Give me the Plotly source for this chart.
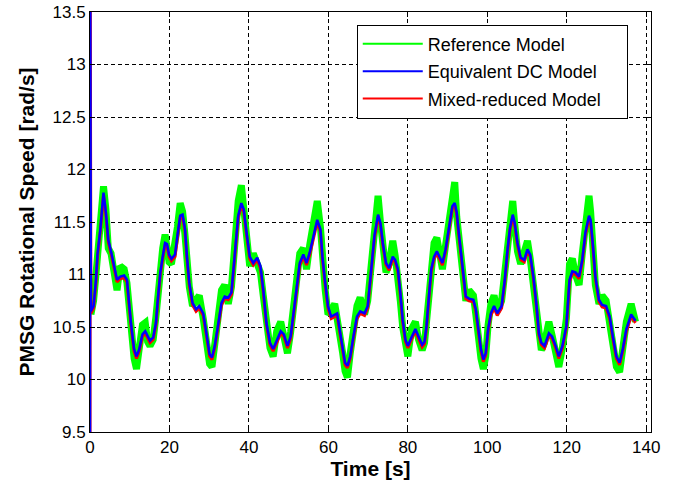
import plotly.graph_objects as go

# Time samples (s)
time_s = [0.0, 0.05, 0.23, 0.9, 1.5, 1.9, 2.6, 3.2, 3.4, 4.0, 4.6, 5.3, 6.1, 6.8, 7.6, 8.6, 9.3, 9.8,
          10.3, 11.1, 11.7, 12.4, 13.2, 13.9, 14.5, 15.1, 15.9, 16.6, 17.0, 17.7, 18.3, 18.9, 19.4,
          19.9, 20.5, 21.4, 22.0, 22.7, 23.3, 23.9, 24.4, 25.0, 25.8, 26.7, 27.5, 28.5, 29.3, 30.1,
          30.7, 31.4, 32.2, 33.1, 33.9, 34.8, 35.6, 36.4, 37.3, 38.1, 38.7, 39.4, 40.2, 41.1, 42.1,
          42.9, 43.6, 44.4, 45.3, 46.1, 47.0, 48.0, 48.8, 49.7, 50.5, 51.3, 52.2, 52.8, 53.7, 54.5,
          55.3, 56.2, 57.2, 58.0, 58.5, 59.2, 59.9, 60.7, 61.6, 62.2, 62.7, 63.6, 64.2, 64.8, 65.5,
          66.3, 67.2, 68.0, 69.1, 69.9, 70.8, 71.6, 72.5, 73.1, 73.7, 74.5, 75.3, 76.2, 76.8, 77.5,
          78.1, 78.7, 79.4, 80.0, 80.9, 81.9, 82.7, 83.6, 84.2, 84.7, 85.3, 85.9, 86.6, 87.3, 88.1,
          88.7, 89.5, 90.4, 91.2, 91.8, 92.3, 92.9, 93.5, 94.0, 94.6, 95.4, 96.5, 97.1, 97.7, 98.4,
          99.0, 99.6, 100.2, 100.9, 101.7, 102.5, 103.6, 104.4, 105.1, 105.7, 106.4, 106.9, 107.6,
          108.4, 109.3, 110.1, 110.8, 111.6, 112.4, 113.0, 113.6, 114.4, 115.5, 116.3, 117.2, 118.0,
          118.9, 119.9, 120.7, 121.4, 122.2, 123.1, 123.9, 124.7, 125.6, 126.0, 126.6, 127.2, 128.1,
          128.9, 129.9, 130.8, 131.6, 132.5, 133.3, 134.1, 135.0, 136.2, 137.3]

# Reference model (green), starts after the initial transient
ref_time = time_s[2:]
reference_model = [10.62, 10.75, 11.00, 11.15, 11.50, 11.72, 11.84, 11.62, 11.25, 11.20, 11.02, 10.85,
                   11.08, 11.05, 10.92, 10.70, 10.48, 10.20, 10.10, 10.36, 10.52, 10.54, 10.36, 10.32,
                   10.38, 10.60, 10.80, 11.08, 11.25, 11.38, 11.25, 11.12, 11.10, 11.28, 11.45, 11.68,
                   11.60, 11.38, 11.10, 10.88, 10.70, 10.75, 10.80, 10.58, 10.36, 10.15, 10.12, 10.38,
                   10.55, 10.85, 10.90, 10.72, 10.88, 11.30, 11.70, 11.85, 11.60, 11.32, 11.08, 11.20,
                   11.12, 11.02, 10.80, 10.50, 10.30, 10.22, 10.46, 10.55, 10.40, 10.25, 10.45, 10.70,
                   11.05, 11.20, 11.25, 11.05, 11.28, 11.45, 11.70, 11.45, 11.10, 10.85, 10.62, 10.65,
                   10.72, 10.60, 10.45, 10.25, 10.08, 10.02, 10.25, 10.48, 10.70, 10.78, 10.62, 10.75,
                   11.05, 11.45, 11.75, 11.50, 11.25, 11.02, 11.10, 11.32, 11.18, 11.00, 10.75, 10.50,
                   10.30, 10.22, 10.48, 10.55, 10.38, 10.28, 10.35, 10.55, 10.88, 11.15, 11.30, 11.35,
                   11.12, 11.05, 11.28, 11.55, 11.80, 11.88, 11.55, 11.30, 11.05, 10.90, 10.75, 10.85,
                   10.80, 10.62, 10.40, 10.20, 10.10, 10.22, 10.52, 10.72, 10.80, 10.65, 10.75, 11.05,
                   11.35, 11.55, 11.70, 11.48, 11.22, 11.10, 11.22, 11.32, 11.15, 10.90, 10.62, 10.35,
                   10.28, 10.35, 10.55, 10.42, 10.25, 10.12, 10.30, 10.58, 11.10, 11.15, 11.00, 10.90,
                   11.20, 11.50, 11.75, 11.60, 11.25, 10.90, 10.72, 10.80, 10.75, 10.55, 10.32, 10.12,
                   10.07, 10.30, 10.55, 10.72, 10.55]

# Equivalent DC model (blue)
equivalent_dc = [9.00, 14.00, 10.65, 10.70, 10.95, 11.20, 11.43, 11.75, 11.78, 11.59, 11.33, 11.22,
                 11.08, 10.95, 10.98, 10.99, 10.95, 10.73, 10.54, 10.29, 10.22, 10.29, 10.43, 10.46,
                 10.41, 10.37, 10.40, 10.54, 10.73, 11.02, 11.17, 11.30, 11.29, 11.19, 11.15, 11.19,
                 11.37, 11.56, 11.57, 11.44, 11.17, 10.92, 10.73, 10.67, 10.70, 10.63, 10.44, 10.24,
                 10.21, 10.32, 10.51, 10.73, 10.79, 10.78, 10.83, 11.21, 11.56, 11.68, 11.62, 11.40,
                 11.17, 11.11, 11.16, 11.08, 10.86, 10.54, 10.35, 10.29, 10.38, 10.46, 10.43, 10.32,
                 10.41, 10.67, 10.95, 11.11, 11.19, 11.11, 11.21, 11.37, 11.52, 11.43, 11.17, 10.92,
                 10.70, 10.60, 10.62, 10.63, 10.51, 10.32, 10.16, 10.13, 10.22, 10.41, 10.60, 10.65,
                 10.63, 10.70, 11.02, 11.37, 11.57, 11.49, 11.30, 11.11, 11.06, 11.17, 11.14, 11.05,
                 10.83, 10.57, 10.38, 10.32, 10.40, 10.48, 10.41, 10.33, 10.36, 10.51, 10.79, 11.05,
                 11.17, 11.22, 11.16, 11.11, 11.24, 11.46, 11.65, 11.68, 11.59, 11.37, 11.14, 10.95,
                 10.79, 10.77, 10.76, 10.67, 10.48, 10.29, 10.19, 10.25, 10.48, 10.63, 10.70, 10.63,
                 10.70, 10.95, 11.24, 11.44, 11.57, 11.49, 11.30, 11.16, 11.14, 11.24, 11.19, 10.98,
                 10.70, 10.44, 10.35, 10.32, 10.44, 10.41, 10.32, 10.22, 10.32, 10.51, 10.95, 11.03,
                 11.02, 10.98, 11.14, 11.40, 11.56, 11.52, 11.27, 10.98, 10.76, 10.71, 10.70, 10.60,
                 10.41, 10.22, 10.16, 10.29, 10.48, 10.62, 10.56]

# Mixed-reduced model (red), nearly identical to the equivalent DC model
mixed_reduced = [9.00, 14.00, 10.63, 10.68, 10.92, 11.18, 11.41, 11.73, 11.76, 11.57, 11.31, 11.20,
                 11.06, 10.93, 10.96, 10.97, 10.93, 10.71, 10.52, 10.27, 10.20, 10.27, 10.41, 10.44,
                 10.39, 10.35, 10.38, 10.52, 10.71, 11.00, 11.15, 11.28, 11.27, 11.17, 11.13, 11.17,
                 11.35, 11.54, 11.55, 11.42, 11.15, 10.90, 10.71, 10.65, 10.68, 10.61, 10.42, 10.22,
                 10.19, 10.30, 10.49, 10.71, 10.77, 10.76, 10.81, 11.19, 11.54, 11.66, 11.60, 11.38,
                 11.15, 11.09, 11.14, 11.06, 10.84, 10.52, 10.33, 10.27, 10.36, 10.44, 10.41, 10.30,
                 10.39, 10.65, 10.93, 11.09, 11.17, 11.09, 11.19, 11.35, 11.50, 11.41, 11.15, 10.90,
                 10.68, 10.58, 10.60, 10.61, 10.49, 10.30, 10.14, 10.11, 10.20, 10.39, 10.58, 10.63,
                 10.61, 10.68, 11.00, 11.35, 11.55, 11.47, 11.28, 11.09, 11.04, 11.15, 11.12, 11.03,
                 10.81, 10.55, 10.36, 10.30, 10.38, 10.46, 10.39, 10.31, 10.34, 10.49, 10.77, 11.03,
                 11.15, 11.20, 11.14, 11.09, 11.22, 11.44, 11.63, 11.66, 11.57, 11.35, 11.12, 10.93,
                 10.77, 10.75, 10.74, 10.65, 10.46, 10.27, 10.17, 10.23, 10.46, 10.61, 10.68, 10.61,
                 10.68, 10.93, 11.22, 11.42, 11.55, 11.47, 11.28, 11.14, 11.12, 11.22, 11.17, 10.96,
                 10.68, 10.42, 10.33, 10.30, 10.42, 10.39, 10.30, 10.20, 10.30, 10.49, 10.93, 11.01,
                 11.00, 10.96, 11.12, 11.38, 11.54, 11.50, 11.25, 10.96, 10.74, 10.69, 10.68, 10.58,
                 10.39, 10.20, 10.14, 10.27, 10.46, 10.60, 10.54]

x_ticks = [0, 20, 40, 60, 80, 100, 120, 140]
y_ticks = [9.5, 10, 10.5, 11, 11.5, 12, 12.5, 13, 13.5]

GREEN = "#00ff00"
BLUE = "#0000ff"
RED = "#ff0000"
FONT = "Liberation Sans, Arial, sans-serif"
NBSP = "\u00a0"

fig = go.Figure()
fig.add_trace(go.Scatter(x=ref_time, y=reference_model, mode="lines",
                         line=dict(color=GREEN, width=7), showlegend=False, hoverinfo="skip"))
fig.add_trace(go.Scatter(x=time_s, y=mixed_reduced, mode="lines",
                         line=dict(color=RED, width=3), showlegend=False, hoverinfo="skip"))
fig.add_trace(go.Scatter(x=time_s, y=equivalent_dc, mode="lines",
                         line=dict(color=BLUE, width=2.5), showlegend=False, hoverinfo="skip"))

# legend entries
legend_names = ["Reference Model", "Equivalent DC Model", "Mixed-reduced Model"]
legend_colors = [GREEN, BLUE, RED]
for i, (name, col) in enumerate(zip(legend_names, legend_colors)):
    label = name + NBSP * 4 if i == 2 else name
    fig.add_trace(go.Scatter(x=[None], y=[None], mode="lines", name=label, legendgroup=f"g{i}",
                             line=dict(color=col, width=2)))

axis_common = dict(
    showline=True, linecolor="black", linewidth=1, mirror="allticks",
    ticks="inside", ticklen=5, tickcolor="black",
    showgrid=True, gridcolor="black", gridwidth=1.3, griddash="4px,3px",
    zeroline=False, tickfont=dict(family=FONT, size=17, color="black"),
    automargin=False,
)

fig.update_xaxes(range=[0, 141.2], tickvals=x_ticks, ticktext=[str(v) for v in x_ticks],
                 title=dict(text="<b>Time [s]</b>", font=dict(family=FONT, size=21, color="black"),
                            standoff=4),
                 **axis_common)
fig.update_yaxes(range=[9.5, 13.5], tickvals=y_ticks, ticktext=[f"{v:g}" for v in y_ticks],
                 title=dict(text="<b>PMSG Rotational Speed [rad/s]</b>",
                            font=dict(family=FONT, size=21, color="black"), standoff=12),
                 **axis_common)

fig.update_layout(
    width=692, height=488,
    margin=dict(l=90, r=41, t=12, b=56, autoexpand=False),
    paper_bgcolor="white", plot_bgcolor="white",
    legend=dict(x=0.4755, y=0.97, xanchor="left", yanchor="top",
                bgcolor="white", bordercolor="black", borderwidth=1,
                font=dict(family=FONT, size=18, color="black"),
                itemwidth=60, tracegroupgap=1),
    font=dict(family=FONT, color="black"),
)

fig.write_html("out.html", config={"displayModeBar": False},
               post_script="document.body.style.margin='0';document.body.style.padding='0';")
